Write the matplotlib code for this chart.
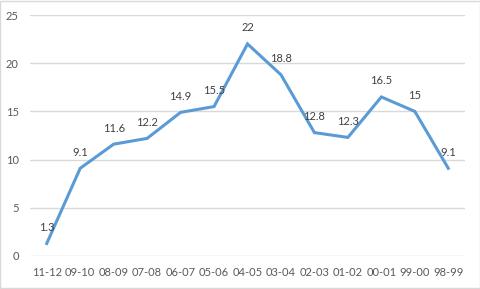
import matplotlib
matplotlib.use("Agg")
import matplotlib.pyplot as plt
from matplotlib.patches import Rectangle

seasons = ["11-12", "09-10", "08-09", "07-08", "06-07", "05-06", "04-05",
           "03-04", "02-03", "01-02", "00-01", "99-00", "98-99"]
values = [1.3, 9.1, 11.6, 12.2, 14.9, 15.5, 22, 18.8, 12.8, 12.3, 16.5, 15, 9.1]
y_ticks = [0, 5, 10, 15, 20, 25]

text_color = "#595959"
line_color = "#5B9BD5"
plt.rcParams['font.family'] = ['Lato', 'DejaVu Sans']

fig = plt.figure(figsize=(4.81, 2.89), dpi=100)
ax = fig.add_axes([30 / 481, 1 - 256 / 289, 435 / 481, 241 / 289])

x = list(range(len(seasons)))
ax.plot(x, values, color=line_color, linewidth=2.2, solid_joinstyle="miter")

# data labels above each point
for xi, v in zip(x, values):
    ax.annotate(f"{v:g}", (xi, v), xytext=(0, 11.5), textcoords="offset points",
                ha="center", va="center", fontsize=8, color="#404040")

ax.set_xlim(-0.5, len(seasons) - 0.5)
ax.set_ylim(0, 25)
ax.set_yticks(y_ticks)
ax.set_xticks(x)
ax.set_xticklabels(seasons)
ax.tick_params(axis="both", length=0, labelsize=8, labelcolor=text_color)
ax.tick_params(axis="x", pad=8)
ax.tick_params(axis="y", pad=8)
ax.grid(axis="y", color="#D9D9D9", linewidth=1)
ax.set_axisbelow(True)
for s in ax.spines.values():
    s.set_visible(False)

fig.patches.append(Rectangle((0.001, 0.002), 0.997, 0.996, transform=fig.transFigure,
                             fill=False, edgecolor="#D9D9D9", linewidth=1))

fig.savefig("out.png", dpi=100)
